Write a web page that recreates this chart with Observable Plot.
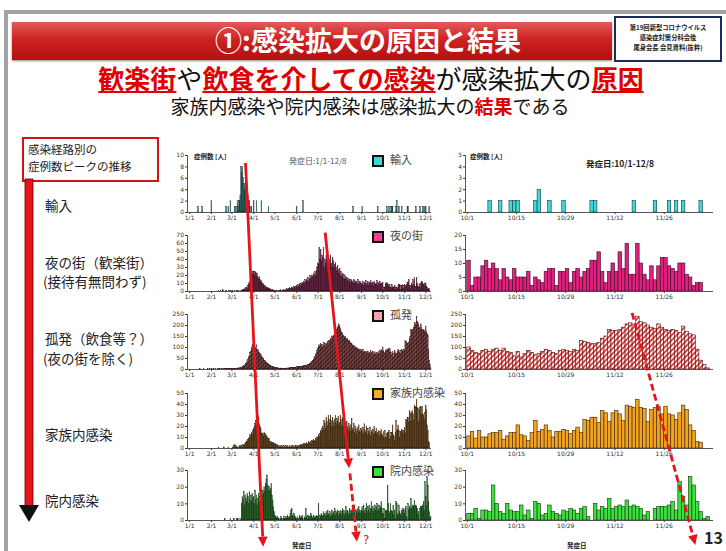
<!DOCTYPE html>
<html><head><meta charset="utf-8">
<script src="https://cdn.jsdelivr.net/npm/d3@7"></script>
<script src="https://cdn.jsdelivr.net/npm/@observablehq/plot@0.6"></script>
<style>
body{margin:0;background:#fff;}
#page{position:relative;width:726px;height:551px;overflow:hidden;background:#fff;font-family:"Noto Sans CJK JP","Noto Sans",sans-serif;color:#222;}
.abs{position:absolute;white-space:nowrap;}
.sub{font-family:"Liberation Sans","Noto Sans CJK JP",sans-serif;color:#111;}
.r{color:#e00000;font-weight:700;text-decoration:underline;text-decoration-color:#e00000;text-decoration-thickness:2px;text-underline-offset:2px;}
.lbl{font-size:13.5px;line-height:18px;color:#222;}
.leg{font-size:11px;line-height:12px;color:#444;font-family:"Noto Sans CJK JP",serif;}
.tiny{font-size:6.5px;font-weight:700;color:#222;}
</style></head>
<body><div id="page">
<svg width="0" height="0" style="position:absolute">
 <defs>
  <pattern id="hatchR" patternUnits="userSpaceOnUse" width="3.6" height="3.6" patternTransform="rotate(45)">
   <rect width="3.6" height="3.6" fill="#fff4f4"/><line x1="0.8" y1="0" x2="0.8" y2="3.6" stroke="#d81c1c" stroke-width="1.5"/>
  </pattern>
  <pattern id="hatchL" patternUnits="userSpaceOnUse" width="3" height="3" patternTransform="rotate(45)">
   <rect width="3" height="3" fill="#5e2424"/><line x1="0.5" y1="0" x2="0.5" y2="3" stroke="#e2a0a0" stroke-width="0.9"/>
  </pattern>
  <pattern id="hatchLeg" patternUnits="userSpaceOnUse" width="2.5" height="2.5" patternTransform="rotate(45)">
   <rect width="2.5" height="2.5" fill="#f08a9a"/><line x1="0.5" y1="0" x2="0.5" y2="2.5" stroke="#ffd8dd" stroke-width="0.8"/>
  </pattern>
 </defs>
</svg>
<!-- slide frame -->
<div class="abs" style="left:4px;top:10px;width:722px;height:4px;background:#a3a3a3"></div>
<div class="abs" style="left:4px;top:10px;width:4px;height:541px;background:#a3a3a3"></div>
<!-- title bar -->
<div class="abs" style="left:12px;top:22px;width:600px;height:38px;background:linear-gradient(#e35a5a 0%,#cf2222 45%,#b01010 100%);box-shadow:0 1px 2px #888;"></div>
<div class="abs" style="left:0;top:20px;width:736px;text-align:center;color:#fff;font-size:27px;font-weight:700;line-height:40px;">①:感染拡大の原因と結果</div>
<div class="abs" style="left:614px;top:16px;width:104px;border:2px solid #1b2b5e;background:#fff;text-align:center;font-size:6.3px;font-weight:700;line-height:10px;padding-top:5px;height:37px;">第19回新型コロナウイルス<br>感染症対策分科会後<br>尾身会長 会見資料(抜粋)</div>
<!-- subtitles -->
<div class="abs sub" style="left:371px;top:66px;transform:translateX(-50%);font-size:26px;line-height:29px;"><span class="r">歓楽街</span>や<span class="r">飲食を介しての感染</span>が感染拡大の<span class="r">原因</span></div>
<div class="abs sub" style="left:370px;top:97px;transform:translateX(-50%);font-size:19px;line-height:21px;">家族内感染や院内感染は感染拡大の<span style="color:#e00000;font-weight:700">結果</span>である</div>
<!-- left column -->
<div class="abs" style="left:22px;top:137px;width:129px;height:39px;border:2px solid #d01515;font-size:11.5px;line-height:17px;padding:2px 0 0 4px;background:#fff;">感染経路別の<br>症例数ピークの推移</div>
<div class="abs lbl" style="left:45px;top:196px;">輸入</div>
<div class="abs lbl" style="left:45px;top:253px;">夜の街（歓楽街）</div>
<div class="abs lbl" style="left:43px;top:272px;">(接待有無問わず)</div>
<div class="abs lbl" style="left:45px;top:329px;">孤発（飲食等？）</div>
<div class="abs lbl" style="left:43px;top:349px;">(夜の街を除く)</div>
<div class="abs lbl" style="left:45px;top:425px;">家族内感染</div>
<div class="abs lbl" style="left:45px;top:491px;">院内感染</div>
<!-- panel texts -->
<div class="abs tiny" style="left:194px;top:151px;">症例数 [人]</div>
<div class="abs tiny" style="left:470px;top:151px;">症例数 [人]</div>
<div class="abs" style="left:289px;top:155px;font-size:8px;color:#555;">発症日:1/1-12/8</div>
<div class="abs" style="left:586px;top:157px;font-size:8.5px;font-weight:700;color:#222;">発症日:10/1-12/8</div>
<div class="abs tiny" style="left:292px;top:540px;">発症日</div>
<div class="abs tiny" style="left:567px;top:540px;">発症日</div>
<div class="abs" style="left:704px;top:525px;font-size:16px;font-weight:700;color:#222;">13</div>
<div id="legends"></div>
</div>
<script>
// ---------------- data ----------------
const seriesNames = ["輸入", "夜の街", "孤発", "家族内感染", "院内感染"];
const leftTickLabels = ["1/1","2/1","3/1","4/1","5/1","6/1","7/1","8/1","9/1","10/1","11/1","12/1"];
const rightTickLabels = ["10/1","10/15","10/29","11/12","11/26"];
const yTicksLeft = [[0,2,4,6,8,10],[0,10,20,30,40,50,60,70],[0,50,100,150,200,250],[0,10,20,30,40,50],[0,10,20,30]];
const yTicksRight = [[0,1,2,3,4,5],[0,5,10,15,20],[0,50,100,150,200,250],[0,10,20,30,40,50],[0,10,20,30]];

// 輸入 (imported cases): sparse days (2020) and counts
const importDates = ["01-13","01-19","02-01","02-22","02-25","02-28","03-05","03-07","03-09","03-10","03-11","03-12","03-13","03-14","03-15","03-16","03-17","03-18","03-19","03-20","03-21","03-22","03-23","03-24","03-25","03-26","03-27","03-29","04-01","04-05","04-12","04-22","06-01","06-10","08-20","09-02","09-24",
 "10-07","10-10","10-13","10-14","10-15","10-20","10-21","10-24","10-28","11-05","11-06","11-17","11-23","11-27","11-29","12-01","12-06"];
const importCounts = [1,1,2,1,1,2,1,1,2,1,2,2,3,8,7,8,6,5,4,5,5,4,3,3,2,2,1,1,2,2,2,1,1,2,1,1,1,
 1,1,1,1,1,1,2,1,1,1,1,1,1,1,1,1,1];

// daily counts 1/1 - 9/30
const nightJanSep = [
 0,0,0,0,0,0,0,0,0,0,0,0,0,0,0,0,0,0,0,0,0,0,0,0,0,0,0,0,0,0,0,
 0,0,0,0,0,0,0,0,0,0,1,0,0,1,0,0,2,1,0,0,0,1,0,0,0,1,0,0,1,
 0,1,0,0,1,0,0,1,0,1,0,0,1,0,1,2,1,2,3,2,4,5,3,7,9,12,10,16,18,22,24,
 25,20,24,23,19,22,17,15,18,14,12,13,10,9,8,6,7,5,4,5,3,4,2,3,2,2,1,2,1,1,
 1,0,1,1,0,1,0,1,2,1,0,1,2,1,1,2,1,3,2,2,3,4,2,3,5,4,3,6,5,4,6,
 7,5,8,6,9,7,10,8,11,9,12,10,14,11,15,13,17,12,16,19,15,18,20,17,22,19,24,20,26,30,
 35,33,55,40,52,38,45,42,55,30,40,35,44,38,42,36,40,33,45,35,30,42,38,28,33,36,30,25,32,27,22,
 28,20,24,18,22,16,21,15,19,14,17,13,16,12,15,11,14,13,12,10,14,11,13,9,12,10,14,8,11,12,9,
 10,8,12,7,11,9,13,8,10,12,7,11,9,13,8,10,11,7,12,9,8,10,13,7,11,9,12,8,10,9];
const isolatedJanSep = [
 0,0,0,0,0,0,0,0,0,0,0,0,0,0,0,1,0,0,0,0,1,0,0,0,0,0,1,0,0,1,0,
 0,1,0,0,1,0,1,0,0,1,0,1,1,0,2,1,0,1,2,1,1,2,1,1,2,1,2,2,1,
 2,1,3,2,2,3,2,4,3,5,4,6,5,8,7,10,12,15,14,20,25,30,38,45,55,62,75,80,95,105,110,
 120,115,100,95,110,85,90,80,75,70,65,60,55,50,48,40,38,35,30,28,25,22,20,18,15,14,12,11,10,9,
 8,7,6,6,5,5,4,4,5,3,4,3,4,3,3,4,3,4,5,4,5,6,5,6,7,6,8,7,8,9,8,
 10,9,11,10,12,11,13,12,14,13,15,14,16,15,18,17,20,19,22,25,28,30,35,40,45,52,58,65,75,85,
 95,105,110,100,115,108,112,100,110,120,115,105,118,112,125,120,130,128,140,135,150,145,155,150,160,165,170,180,190,200,205,
 195,185,170,165,160,155,150,145,150,140,135,140,130,125,130,120,115,118,110,105,108,100,102,95,98,90,92,88,90,85,88,
 85,80,88,78,82,75,80,72,78,82,70,76,72,85,70,75,80,68,72,78,65,70,75,68,80,72,85,78,90,82];
const familyJanSep = [
 0,0,0,0,0,0,0,0,0,0,0,0,0,0,0,0,0,0,0,0,0,0,0,0,0,0,0,0,0,0,0,
 0,0,0,0,0,0,0,0,0,0,1,0,0,0,0,0,0,0,1,0,0,0,0,0,1,0,0,0,0,
 0,1,0,2,3,1,2,1,1,0,1,2,1,2,2,1,3,2,3,4,5,6,7,8,9,10,12,11,14,13,16,
 18,20,22,25,21,24,30,28,22,20,18,14,12,13,11,14,13,12,10,11,9,8,9,6,5,6,4,5,5,4,
 3,4,2,3,2,1,2,1,2,1,2,1,1,2,1,1,2,1,2,1,1,2,1,1,2,1,2,1,1,2,2,
 1,2,2,1,2,3,2,3,2,3,4,3,4,3,5,4,3,6,5,4,6,5,7,6,8,7,6,9,8,10,
 10,12,11,13,16,15,18,20,17,25,22,18,28,24,20,30,26,22,30,25,19,28,24,20,26,30,22,27,24,29,21,
 23,30,26,20,28,22,19,25,21,18,24,20,16,22,19,15,21,27,18,16,22,14,20,17,13,19,15,21,16,14,18,
 17,15,19,13,22,16,14,20,12,18,15,13,19,11,16,14,17,12,20,13,15,18,12,14,16,11,15,13,17,12];
const hospitalJanSep = [
 0,0,0,0,0,0,0,0,0,0,0,0,0,0,0,0,0,0,0,0,0,0,0,0,0,0,0,0,0,0,0,
 0,0,0,0,0,0,0,0,0,0,0,0,0,0,0,0,0,0,0,1,0,0,0,0,0,0,0,1,0,
 0,0,0,1,0,0,0,1,0,1,0,0,1,0,10,14,12,17,9,15,13,11,16,14,10,17,12,15,11,16,13,
 14,10,18,12,15,9,13,16,11,14,8,12,15,18,16,20,17,22,25,27,21,18,20,17,19,22,15,12,8,5,
 3,2,2,1,2,1,1,0,1,2,1,0,1,2,1,1,2,1,3,2,1,2,4,6,7,3,2,4,3,2,1,
 1,2,0,1,3,2,1,2,3,1,0,2,1,7,2,1,3,2,1,2,4,3,2,1,3,2,1,2,3,2,
 2,10,1,3,2,4,3,2,5,3,4,2,5,3,6,4,3,5,2,4,6,3,5,4,7,3,5,4,6,3,5,
 4,6,3,5,7,4,6,3,5,8,4,6,5,3,7,4,6,5,8,4,5,9,3,6,5,7,4,8,5,6,4,
 6,8,5,9,6,4,7,10,5,8,6,9,4,7,11,6,8,5,7,9,6,8,10,5,7,9,6,8,11,7];
// daily counts 10/1 - 12/8 (shown in both panels)
const nightOctDec = [11,2,5,5,9,11,8,10,8,4,8,5,4,8,5,5,5,7,2,5,4,3,7,8,8,2,7,7,8,3,7,
 8,5,7,8,11,11,14,7,3,7,10,7,14,8,17,6,6,17,10,6,4,9,4,9,12,12,9,8,7,10,
 10,6,5,2,3,3,0,0];
const isolatedOctDec = [100,85,75,70,85,90,80,90,95,85,95,80,75,60,80,55,70,85,75,65,70,80,90,85,75,70,85,90,85,80,90,85,
 130,125,120,115,115,120,140,150,180,175,175,180,190,205,210,200,240,215,210,200,190,185,205,190,180,175,180,175,165,195,170,160,155,90,40,20,5];
const familyOctDec = [11,15,9,16,10,10,13,14,14,16,8,11,14,14,21,12,11,7,14,25,15,17,21,16,10,15,15,17,16,13,
 16,19,14,26,25,28,28,23,34,32,24,32,34,31,25,39,38,37,44,37,36,24,35,37,38,31,38,31,30,26,32,39,35,21,16,6,5,0,0];
const hospitalOctDec = [4,4,7,1,6,6,5,21,10,5,4,10,6,5,5,9,3,6,1,11,10,3,4,9,5,4,3,6,5,7,6,4,7,8,2,0,10,6,8,7,
 13,7,8,9,8,12,8,9,8,7,3,5,0,7,8,8,8,9,11,6,23,14,9,26,21,11,5,1,2];

// arrow annotations (data coordinates of each panel)
const arrowNotes = [
 {side:"left", from:[0,"2020-03-21",8.6], to:[4,"2020-04-15",-16], dashed:false, label:""},
 {side:"left", from:[1,"2020-07-12",73], to:[4,"2020-08-15",31], dashed:false, label:""},
 {side:"left", from:[4,"2020-08-16",28], to:[4,"2020-08-26",-13], dashed:true, label:"?"},
 {side:"right", from:[2,"2020-11-17",255], to:[4,"2020-12-05",-15], dashed:true, label:""}
];

// ---------------- build ----------------
const DAY = 864e5;
const U = s => new Date(Date.parse(s + "T00:00:00Z"));
function daily(start, values){ const s = U(start).getTime(); return values.map((v,i)=>({date:new Date(s+i*DAY), end:new Date(s+(i+1)*DAY), value:v})); }
function sparse(dates, counts){ return dates.map((d,i)=>{const s=U("2020-"+d).getTime(); return {date:new Date(s), end:new Date(s+DAY), value:counts[i]};}); }
const tickDate = (lab, y) => { const [m,d] = lab.split("/").map(Number); return new Date(Date.UTC(y, m-1, d)); };
const fmt = d => `${d.getUTCMonth()+1}/${d.getUTCDate()}`;

const importAll = sparse(importDates, importCounts);
const octStart = U("2020-10-01");
const leftData = [importAll,
  daily("2020-01-01", nightJanSep.concat(nightOctDec)),
  daily("2020-01-01", isolatedJanSep.concat(isolatedOctDec)),
  daily("2020-01-01", familyJanSep.concat(familyOctDec)),
  daily("2020-01-01", hospitalJanSep.concat(hospitalOctDec))];
const rightData = [importAll.filter(d => d.date >= octStart),
  daily("2020-10-01", nightOctDec), daily("2020-10-01", isolatedOctDec),
  daily("2020-10-01", familyOctDec), daily("2020-10-01", hospitalOctDec)];

const styles = {
 left:  {fills:["#2a7f7f","#7a1a4a","url(#hatchL)","#7a4a12","#1f761f"], strokes:["#071c1c","#22040f","#2a0808","#1e1204","#052005"], sw:0.35},
 right: {fills:["#3fd8d8","#e0207e","url(#hatchR)","#f2a322","#3ee03e"], strokes:["#143a3a","#3a0820","#5a1010","#3a2505","#0a3a0a"], sw:0.6}
};
const legendFills = ["#3fd8d8","#ff3c9a","url(#hatchLeg)","#f5b020","#3ee03e"];

const LAYOUT = {
 left:  {left:158, width:280, ml:29, mr:7, domain:[new Date(Date.UTC(2019,11,29)), new Date(Date.UTC(2020,11,9))], ticks: leftTickLabels.map(l=>tickDate(l,2020))},
 right: {left:440, width:285, ml:25, mr:12, domain:[new Date(Date.UTC(2020,8,30,12)), new Date(Date.UTC(2020,11,10))], ticks: rightTickLabels.map(l=>tickDate(l,2020))}
};
const ROWS = [[155,212],[235,291],[314,369],[393,448],[470,520]];
const page = document.getElementById("page");
const panels = {left:[], right:[]};

for (const side of ["left","right"]) {
  const L = LAYOUT[side];
  const data = side === "left" ? leftData : rightData;
  const yT = side === "left" ? yTicksLeft : yTicksRight;
  for (let row = 0; row < 5; row++) {
    const [topPx, zeroPx] = ROWS[row];
    const mt = 8, mb = 14;
    const yMax = yT[row][yT[row].length-1];
    const chart = Plot.plot({
      width: L.width, height: zeroPx - topPx + mt + mb,
      marginLeft: L.ml, marginRight: L.mr, marginTop: mt, marginBottom: mb,
      style: {background:"transparent", fontSize:"6px", fontFamily:"DejaVu Sans, sans-serif", color:"#333", overflow:"visible"},
      x: {type:"utc", domain:L.domain, ticks:L.ticks, tickFormat:fmt, tickSize:2, tickPadding:1.5, label:null},
      y: {domain:[0,yMax], ticks:yT[row], tickFormat:d => String(d), tickSize:2, tickPadding:1.5, label:null},
      marks: [
        Plot.rectY(data[row], {x1:"date", x2:"end", y:"value", fill:styles[side].fills[row], stroke:styles[side].strokes[row], strokeWidth:styles[side].sw}),
        Plot.ruleY([0], {stroke:"#444", strokeWidth:0.9}),
        Plot.ruleX([L.domain[0]], {y1:0, y2:yMax, stroke:"#444", strokeWidth:0.9})
      ]
    });
    chart.style.position = "absolute";
    chart.style.left = L.left + "px";
    chart.style.top = (topPx - mt) + "px";
    page.appendChild(chart);
    const sx = chart.scale("x"), sy = chart.scale("y");
    const lin = (s, v) => s.range[0] + (+v - +s.domain[0]) / (+s.domain[1] - +s.domain[0]) * (s.range[1] - s.range[0]);
    panels[side].push({
      x: d => L.left + lin(sx, d),
      y: v => (topPx - mt) + lin(sy, v)
    });
  }
}

// legends (inside left panels)
const legTops = [153, 229, 308, 386, 464];
const legDiv = document.getElementById("legends");
seriesNames.forEach((n,i) => {
  const d = document.createElement("div");
  d.className = "abs leg";
  d.style.left = "372px"; d.style.top = legTops[i] + "px";
  const sq = `<svg width="12" height="12" style="vertical-align:middle;margin-right:6px"><rect x="1" y="1" width="10" height="10" fill="${legendFills[i]}" stroke="#111" stroke-width="2"/></svg>`;
  d.innerHTML = sq + n;
  legDiv.appendChild(d);
});

// overlay: arrows
const ov = d3.select(page).append("svg").attr("width",726).attr("height",551)
  .style("position","absolute").style("left",0).style("top",0).style("pointer-events","none");
// left-column thick arrow
ov.append("rect").attr("x",25).attr("y",179).attr("width",8).attr("height",328).attr("fill","#e8141c").attr("stroke","#5a0000").attr("stroke-width",0.8);
ov.append("path").attr("d","M19,505 L39,505 L29,522 Z").attr("fill","#111");

const RED = "#e8141c";
for (const a of arrowNotes) {
  const P = panels[a.side];
  const x1 = P[a.from[0]].x(U(a.from[1])), y1 = P[a.from[0]].y(a.from[2]);
  const x2 = P[a.to[0]].x(U(a.to[1])), y2 = P[a.to[0]].y(a.to[2]);
  const ang = Math.atan2(y2-y1, x2-x1), hl = 10, hw = 4.8;
  const bx = x2 - hl*Math.cos(ang), by = y2 - hl*Math.sin(ang);
  ov.append("line").attr("x1",x1).attr("y1",y1).attr("x2",bx).attr("y2",by)
    .attr("stroke",RED).attr("stroke-width",2.8).attr("stroke-dasharray", a.dashed ? "7,3.5" : null);
  ov.append("path").attr("d",`M${x2},${y2} L${bx+hw*Math.sin(ang)},${by-hw*Math.cos(ang)} L${bx-hw*Math.sin(ang)},${by+hw*Math.cos(ang)} Z`).attr("fill",RED);
  if (a.label) ov.append("text").attr("x",x2+6).attr("y",y2+2).attr("fill",RED).attr("font-size",12).attr("font-family","DejaVu Sans").text(a.label);
}
</script>
</body></html>
